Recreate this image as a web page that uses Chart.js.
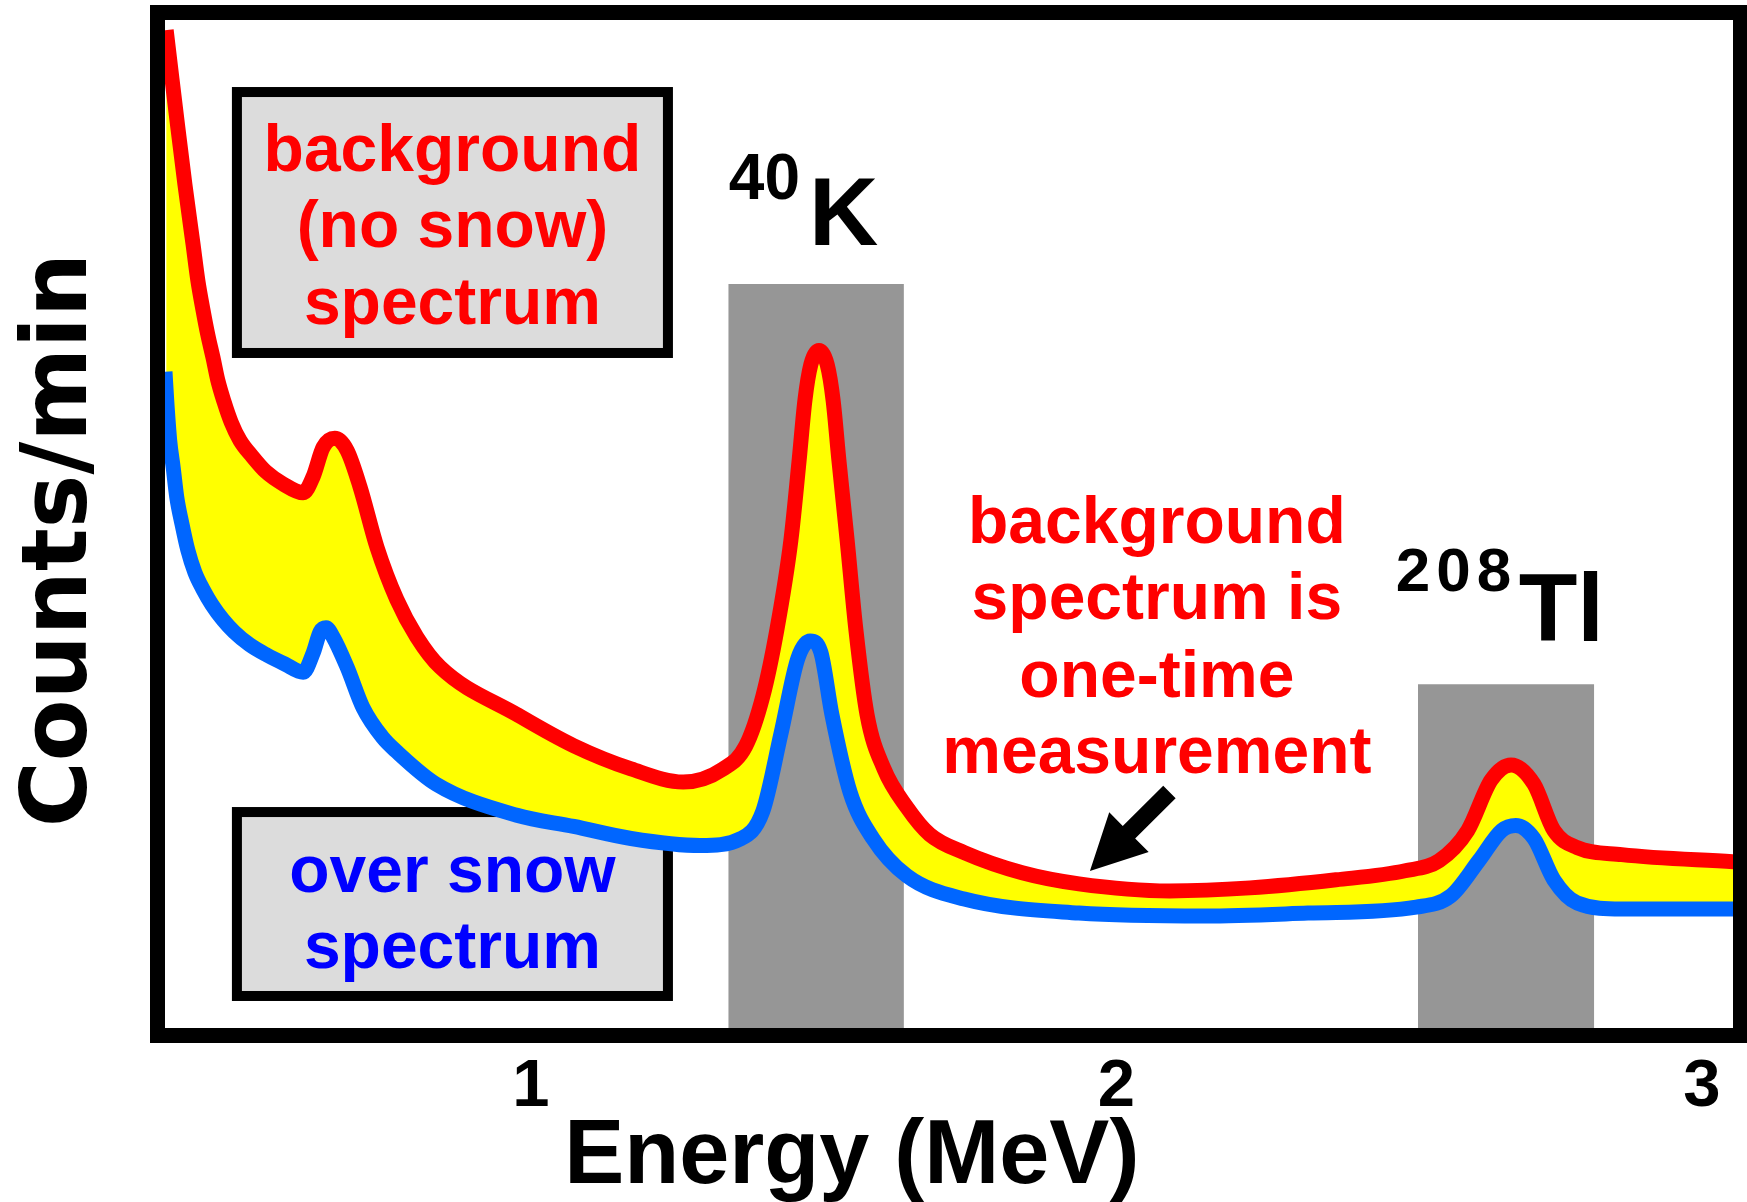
<!DOCTYPE html>
<html>
<head>
<meta charset="utf-8">
<title>Background vs over-snow gamma spectrum</title>
<script src="https://cdn.jsdelivr.net/npm/chart.js@4.4.1/dist/chart.umd.min.js"></script>
<style>
  html, body { margin: 0; padding: 0; background: #fff; }
</style>
</head>
<body>
<canvas id="spectrum" width="1747" height="1202"></canvas>
<script>
// background (no snow) spectrum: energy in MeV, counts/min in arbitrary units
const bgEnergy = [0.377, 0.387, 0.397, 0.409, 0.423, 0.431, 0.440, 0.448, 0.457, 0.465, 0.476, 0.488, 0.503, 0.524, 0.547, 0.576, 0.611, 0.628, 0.645, 0.665, 0.686, 0.708, 0.737, 0.771, 0.805, 0.845, 0.976, 1.073, 1.171, 1.260, 1.328, 1.367, 1.396, 1.420, 1.444, 1.458, 1.468, 1.478, 1.492, 1.506, 1.516, 1.526, 1.540, 1.555, 1.574, 1.603, 1.642, 1.681, 1.740, 1.839, 1.936, 2.091, 2.228, 2.375, 2.493, 2.551, 2.600, 2.640, 2.674, 2.713, 2.747, 2.787, 2.863, 3.054];
const bgCounts = [99.0, 94.1, 89.3, 83.7, 77.7, 74.2, 71.2, 68.8, 66.5, 64.3, 62.1, 60.1, 58.3, 56.7, 55.2, 54.0, 53.1, 54.7, 57.6, 58.5, 57.3, 53.7, 47.7, 42.5, 38.8, 35.8, 31.1, 28.0, 25.7, 24.4, 25.7, 28.0, 32.9, 39.5, 48.4, 56.3, 62.3, 65.8, 67.2, 65.8, 62.3, 56.3, 48.4, 39.5, 31.1, 25.7, 21.9, 19.2, 17.4, 15.4, 14.3, 13.6, 13.9, 14.7, 15.6, 16.6, 19.6, 24.6, 26.1, 24.2, 19.6, 17.9, 17.2, 16.5];

// over snow spectrum
const snowEnergy = [0.375, 0.378, 0.383, 0.389, 0.395, 0.404, 0.414, 0.426, 0.440, 0.455, 0.474, 0.493, 0.520, 0.549, 0.580, 0.611, 0.628, 0.640, 0.650, 0.662, 0.686, 0.713, 0.747, 0.771, 0.838, 0.976, 1.073, 1.171, 1.289, 1.359, 1.396, 1.427, 1.456, 1.477, 1.495, 1.514, 1.545, 1.584, 1.642, 1.740, 1.936, 2.151, 2.327, 2.512, 2.571, 2.619, 2.658, 2.682, 2.713, 2.747, 2.787, 2.863, 3.054];
const snowCounts = [65.1, 62.2, 58.3, 55.6, 52.7, 50.0, 47.4, 45.2, 43.5, 42.0, 40.5, 39.3, 38.0, 37.0, 36.1, 35.3, 37.2, 39.3, 39.7, 38.8, 35.8, 31.8, 28.8, 27.4, 24.2, 21.1, 20.0, 18.8, 18.1, 18.8, 21.5, 29.2, 36.7, 38.4, 37.3, 31.1, 23.4, 18.8, 15.1, 12.8, 11.4, 11.1, 11.4, 12.0, 13.1, 16.6, 19.6, 20.1, 18.8, 14.7, 12.4, 11.8, 11.8];

// photopeak windows (grey bands)
const windowNames = ['40K', '208Tl'];
const windowStart = [1.337, 2.515];
const windowEnd = [1.637, 2.816];
const windowTop = [73.8, 34.1];

const energyTicks = [1, 2, 3];

const SANS = '"Liberation Sans", Arial, Helvetica, sans-serif';
const WIDE = '"DejaVu Sans", Verdana, sans-serif';

const toPoints = (xs, ys) => xs.map((x, i) => ({ x, y: ys[i] }));

// label boxes, in data units (energy, counts)
const labelBoxes = [
  { x0: 0.4893, x1: 1.2425, y0: 93.35, y1: 66.47, color: '#ff0000',
    lines: ['background', '(no snow)', 'spectrum'], baselines: [85.02, 77.48, 69.84] },
  { x0: 0.4893, x1: 1.2425, y0: 21.92, y1: 2.68, color: '#0000ff',
    lines: ['over snow', 'spectrum'], baselines: [13.49, 5.95] },
];

const noteLines = ['background', 'spectrum is', 'one-time', 'measurement'];
const noteBaselines = [48.12, 40.58, 32.84, 25.30];

const annotate = {
  id: 'annotate',
  beforeDraw(chart) {
    const { ctx } = chart;
    const X = (v) => chart.scales.x.getPixelForValue(v);
    const Y = (v) => chart.scales.y.getPixelForValue(v);
    ctx.save();
    labelBoxes.forEach((b) => {
      const l = X(b.x0), r = X(b.x1), t = Y(b.y0), bt = Y(b.y1);
      ctx.fillStyle = '#dcdcdc';
      ctx.fillRect(l, t, r - l, bt - t);
      ctx.lineWidth = 10;
      ctx.strokeStyle = '#000';
      ctx.strokeRect(l + 5, t + 5, r - l - 10, bt - t - 10);
      ctx.fillStyle = b.color;
      ctx.font = `bold 66px ${SANS}`;
      ctx.textAlign = 'center';
      ctx.textBaseline = 'alphabetic';
      b.lines.forEach((s, i) => ctx.fillText(s, (l + r) / 2, Y(b.baselines[i])));
    });
    ctx.restore();
  },
  afterDraw(chart) {
    const { ctx, chartArea: a } = chart;
    const X = (v) => chart.scales.x.getPixelForValue(v);
    const Y = (v) => chart.scales.y.getPixelForValue(v);
    ctx.save();

    // frame
    ctx.lineWidth = 15;
    ctx.strokeStyle = '#000';
    ctx.strokeRect(a.left - 7.5, a.top - 7.5, a.right - a.left + 15, a.bottom - a.top + 15);

    // isotope labels
    ctx.fillStyle = '#000';
    ctx.textAlign = 'left';
    ctx.textBaseline = 'alphabetic';
    ctx.font = `bold 64px ${SANS}`;
    ctx.fillText('40', X(1.338), Y(82.24));
    ctx.font = `bold 96px ${SANS}`;
    ctx.fillText('K', X(1.475), Y(77.68));
    ctx.font = `bold 62px ${SANS}`;
    ctx.letterSpacing = '6px';
    ctx.fillText('208', X(2.477), Y(43.35));
    ctx.letterSpacing = '0px';
    ctx.font = `bold 96px ${SANS}`;
    ctx.fillText('Tl', X(2.687), Y(38.39));

    // note
    ctx.fillStyle = '#ff0000';
    ctx.textAlign = 'center';
    ctx.font = `bold 66px ${SANS}`;
    noteLines.forEach((s, i) => ctx.fillText(s, X(2.069), Y(noteBaselines[i])));

    // arrow
    const tx = X(2.0905), ty = Y(23.41), hx = X(1.9547), hy = Y(15.58);
    const len = Math.hypot(hx - tx, hy - ty);
    const ux = (hx - tx) / len, uy = (hy - ty) / len;
    const nx = -uy, ny = ux;
    const headLen = 55, headHalf = 28, shaftHalf = 8.8;
    const bx = hx - ux * headLen, by = hy - uy * headLen;
    ctx.fillStyle = '#000';
    ctx.beginPath();
    ctx.moveTo(tx + nx * shaftHalf, ty + ny * shaftHalf);
    ctx.lineTo(bx + nx * shaftHalf, by + ny * shaftHalf);
    ctx.lineTo(bx + nx * headHalf, by + ny * headHalf);
    ctx.lineTo(hx, hy);
    ctx.lineTo(bx - nx * headHalf, by - ny * headHalf);
    ctx.lineTo(bx - nx * shaftHalf, by - ny * shaftHalf);
    ctx.lineTo(tx - nx * shaftHalf, ty - ny * shaftHalf);
    ctx.closePath();
    ctx.fill();

    // axis titles
    ctx.fillStyle = '#000';
    ctx.textAlign = 'center';
    ctx.font = `bold 90px ${SANS}`;
    ctx.fillText('Energy (MeV)', X(1.548), Y(-15.4));
    ctx.translate(86, Y(48.4));
    ctx.rotate(-Math.PI / 2);
    ctx.font = `bold 90px ${WIDE}`;
    ctx.fillText('Counts/min', 0, 0);

    ctx.restore();
  },
};

const bandSets = windowNames.map((name, i) => ({
  label: name + ' window',
  data: [{ x: windowStart[i], y: windowTop[i] }, { x: windowEnd[i], y: windowTop[i] }],
  backgroundColor: '#969696',
  borderColor: 'rgba(0,0,0,0)',
  borderWidth: 0,
  pointRadius: 0,
  tension: 0,
  fill: 'origin',
  order: 3,
}));

new Chart(document.getElementById('spectrum'), {
  type: 'line',
  data: {
    datasets: [
      {
        label: 'background (no snow) spectrum',
        data: toPoints(bgEnergy, bgCounts),
        borderColor: '#ff0000',
        backgroundColor: '#ffff00',
        borderWidth: 15,
        pointRadius: 0,
        cubicInterpolationMode: 'monotone',
        borderJoinStyle: 'round',
        fill: '+1',
        order: 2,
      },
      {
        label: 'over snow spectrum',
        data: toPoints(snowEnergy, snowCounts),
        borderColor: '#0066ff',
        borderWidth: 15,
        pointRadius: 0,
        cubicInterpolationMode: 'monotone',
        borderJoinStyle: 'round',
        fill: false,
        order: 1,
      },
      ...bandSets,
    ],
  },
  options: {
    responsive: false,
    animation: false,
    devicePixelRatio: 1,
    layout: { padding: { left: 165, right: 14, top: 20, bottom: 74 } },
    plugins: {
      legend: { display: false },
      tooltip: { enabled: false },
    },
    scales: {
      x: {
        type: 'linear',
        min: 0.375,
        max: 3.053,
        grid: { display: false, drawTicks: false },
        border: { display: false },
        afterBuildTicks: (axis) => {
          axis.ticks = energyTicks.map((v) => ({ value: v }));
        },
        afterFit: (axis) => {
          axis.height = 100;
        },
        ticks: {
          padding: 19,
          color: '#000',
          font: { family: SANS, size: 67, weight: 'bold' },
          callback: (v) => String(v),
          maxRotation: 0,
        },
      },
      y: {
        type: 'linear',
        display: false,
        min: 0,
        max: 100,
      },
    },
  },
  plugins: [annotate],
});
</script>
</body>
</html>
